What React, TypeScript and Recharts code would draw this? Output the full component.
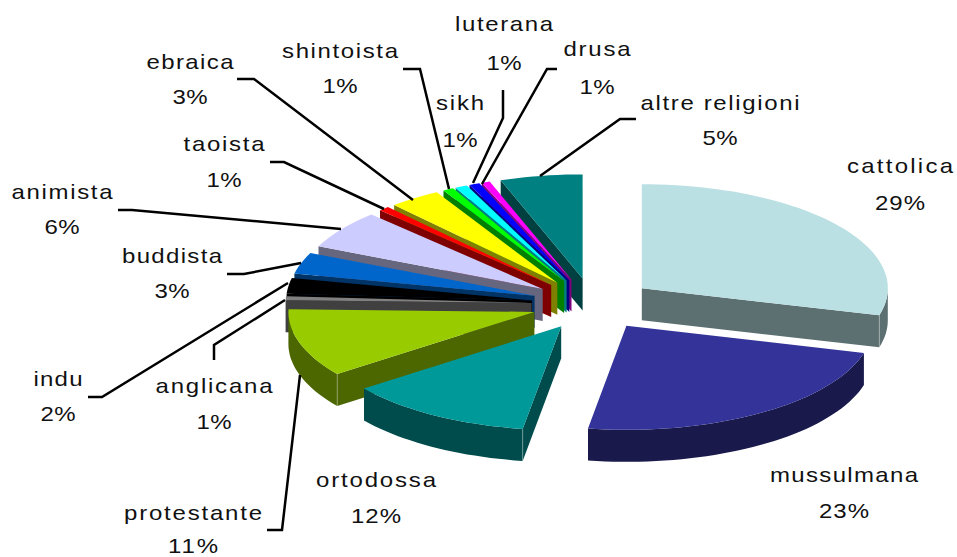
import { Cell, Pie, PieChart } from "recharts";

// listed counter-clockwise from 12 o'clock so the back slices paint first
const categories = [
  "altre religioni", "drusa", "luterana", "sikh", "shintoista", "ebraica", "taoista",
  "animista", "buddista", "indu", "anglicana", "protestante", "ortodossa", "mussulmana", "cattolica",
];
const shares = [5.4, 0.55, 0.7, 0.8, 0.7, 3.4, 0.7, 6.0, 3.3, 2.45, 0.6, 10.6, 12.3, 23.3, 29.2];
const colors = [
  "#008080", "#FF00FF", "#0000FF", "#00FFFF", "#00FF00", "#FFFF00", "#FF0000",
  "#CCCCFF", "#0066CC", "#000000", "#808080", "#99CC00", "#009999", "#333399", "#BBE0E3",
];

const data = categories.map((name, i) => ({ name, value: shares[i] }));

const RADIUS = 246;
const TILT = 104 / RADIUS; // vertical squash of the pie disc
const DEPTH = 32;
const EXPLODE = 0.25;
const FONT = "'Liberation Sans', Arial, sans-serif";
const GLYPH_STRETCH = 1.2; // the source text is wide and loosely spaced

// hand placed labels and leader lines: centre x, name baseline, percent baseline, name width
const LABELS: Record<string, { x: number; y: number; py: number; w: number; leader?: number[][] }> = {
  cattolica: { x: 900, y: 173, py: 210, w: 106 },
  mussulmana: { x: 844, y: 482, py: 518, w: 148 },
  ortodossa: { x: 376, y: 487, py: 523, w: 120 },
  protestante: { x: 193, y: 520, py: 553, w: 138, leader: [[267, 530], [282, 530], [300, 375]] },
  anglicana: { x: 214, y: 393, py: 429, w: 117, leader: [[214, 360], [214, 345], [285, 300]] },
  indu: { x: 58, y: 386, py: 421, w: 49, leader: [[88, 397], [102, 397], [288, 283]] },
  buddista: { x: 172, y: 263, py: 298, w: 100, leader: [[227, 274], [244, 274], [301, 263]] },
  animista: { x: 62, y: 199, py: 234, w: 101, leader: [[118, 210], [132, 210], [341, 229]] },
  taoista: { x: 224, y: 151, py: 187, w: 81, leader: [[270, 162], [284, 162], [384, 209]] },
  ebraica: { x: 190, y: 69, py: 104, w: 87, leader: [[237, 79], [254, 79], [413, 200]] },
  shintoista: { x: 340, y: 58, py: 93, w: 116, leader: [[403, 69], [420, 69], [449, 189]] },
  sikh: { x: 460, y: 110, py: 147, w: 48 },
  luterana: { x: 504, y: 31, py: 70, w: 98, leader: [[503, 90], [503, 118], [473, 183]] },
  drusa: { x: 597, y: 56, py: 94, w: 67, leader: [[482, 184], [547, 69], [557, 69]] },
  "altre religioni": { x: 720, y: 110, py: 145, w: 159, leader: [[540, 176], [620, 119], [636, 119]] },
};

function darken(hex: string) {
  const n = parseInt(hex.slice(1), 16);
  const ch = (s: number) => ((n >> s) & 255) >> 1;
  return `rgb(${ch(16)},${ch(8)},${ch(0)})`;
}

function Slice3D(props: any) {
  const { cx, cy, outerRadius: r, startAngle, endAngle, fill } = props;
  // recharts angles to clockwise degrees from 12 o'clock
  const t0 = 450 - Math.max(startAngle, endAngle);
  const t1 = 450 - Math.min(startAngle, endAngle);
  const mid = ((t0 + t1) / 2) * (Math.PI / 180);
  const ox = cx + EXPLODE * r * Math.sin(mid);
  const oy = cy - EXPLODE * r * TILT * Math.cos(mid);

  const pt = (t: number, dz = 0) => {
    const a = t * (Math.PI / 180);
    return [ox + r * Math.sin(a), oy - r * TILT * Math.cos(a) + dz];
  };
  const arc = (a: number, b: number, dz = 0) => {
    const out: number[][] = [];
    const steps = Math.max(2, Math.ceil(Math.abs(b - a) / 2));
    for (let i = 0; i <= steps; i++) out.push(pt(a + ((b - a) * i) / steps, dz));
    return out;
  };
  const d = (pts: number[][]) => "M" + pts.map((p) => `${p[0].toFixed(1)},${p[1].toFixed(1)}`).join("L") + "Z";
  const wall = darken(fill);
  const sinOf = (t: number) => Math.sin(t * (Math.PI / 180));

  const walls: string[] = [];
  if (sinOf(t0) < -1e-6) {
    walls.push(d([[ox, oy], pt(t0), pt(t0, DEPTH), [ox, oy + DEPTH]]));
  }
  if (sinOf(t1) > 1e-6) {
    walls.push(d([[ox, oy], pt(t1), pt(t1, DEPTH), [ox, oy + DEPTH]]));
  }
  const a = Math.max(t0, 90);
  const b = Math.min(t1, 270);
  if (b > a) {
    walls.push(d([...arc(a, b), ...arc(b, a, DEPTH)]));
  }

  // thin lit seam where a cut wall meets the rounded wall
  const seams = [t0, t1].filter((t) => t > 90 && t < 270 && (t === t0 ? sinOf(t) < 0 : sinOf(t) > 0));

  return (
    <g>
      {walls.map((w, i) => (
        <path key={i} d={w} fill={wall} />
      ))}
      {seams.map((t) => {
        const [x1, y1] = pt(t);
        const [x2, y2] = pt(t, DEPTH);
        return <line key={t} x1={x1} y1={y1} x2={x2} y2={y2} stroke="#fff" strokeOpacity={0.3} />;
      })}
      <path d={d([[ox, oy], ...arc(t0, t1)])} fill={fill} />
    </g>
  );
}

function WideText({ x, y, w, children }: { x: number; y: number; w: number; children: string }) {
  return (
    <text
      transform={`translate(${x} ${y}) scale(${GLYPH_STRETCH} 1)`}
      textAnchor="middle"
      fontSize={20}
      fontFamily={FONT}
      fill="#111"
      textLength={w / GLYPH_STRETCH}
      lengthAdjust="spacing"
    >
      {children}
    </text>
  );
}

function renderLabel(props: any) {
  const item = LABELS[props.name];
  if (!item) return <g />;
  const pct = `${Math.round(props.percent * 100)}%`;
  const pctW = pct.length > 2 ? 50 : 35;
  return (
    <g>
      {item.leader && (
        <polyline
          points={item.leader.map((p) => p.join(",")).join(" ")}
          fill="none"
          stroke="#000"
          strokeWidth={2.5}
        />
      )}
      <WideText x={item.x} y={item.y} w={item.w}>{props.name}</WideText>
      <WideText x={item.x} y={item.py} w={pctW}>{pct}</WideText>
    </g>
  );
}

export default function App() {
  return (
    <div style={{ position: "absolute", left: 0, top: 0, width: 957, height: 557, background: "#fff" }}>
      <PieChart width={957} height={557} margin={{ top: 0, right: 0, bottom: 0, left: 0 }}>
        <Pie
          data={data}
          dataKey="value"
          nameKey="name"
          cx={593}
          cy={304}
          outerRadius={RADIUS}
          startAngle={90}
          endAngle={450}
          stroke="none"
          isAnimationActive={false}
          shape={Slice3D}
          activeShape={Slice3D}
          inactiveShape={Slice3D}
          label={renderLabel}
          labelLine={false}
        >
          {data.map((d, i) => (
            <Cell key={d.name} fill={colors[i]} />
          ))}
        </Pie>
      </PieChart>
    </div>
  );
}
